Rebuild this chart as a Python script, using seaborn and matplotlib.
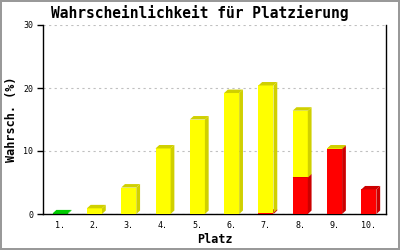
import matplotlib
matplotlib.use("Agg")
import matplotlib.pyplot as plt
from matplotlib.patches import Polygon
import seaborn as sns
import pandas as pd

places = ["1.", "2.", "3.", "4.", "5.", "6.", "7.", "8.", "9.", "10."]
green = [0.1, 0, 0, 0, 0, 0, 0, 0, 0, 0]
red = [0, 0, 0, 0, 0, 0, 0.2, 5.8, 10.3, 3.9]
yellow = [0, 0.9, 4.2, 10.4, 15.0, 19.2, 20.2, 10.6, 0.1, 0]
yticks = [0, 10, 20, 30]

title = "Wahrscheinlichkeit für Platzierung"
xlabel = "Platz"
ylabel = "Wahrsch. (%)"

sns.set_theme(style="white")
plt.rcParams["font.family"] = ["DejaVu Sans Mono", "DejaVu Sans"]
plt.rcParams["text.color"] = "black"
plt.rcParams["axes.labelcolor"] = "black"
plt.rcParams["xtick.color"] = "black"
plt.rcParams["ytick.color"] = "black"

df = pd.DataFrame({"place": places, "green": green, "red": red, "yellow": yellow})
df["bottom_red"] = df["green"]
df["bottom_yellow"] = df["green"] + df["red"]

fig = plt.figure(figsize=(4, 2.5), dpi=100, edgecolor="#999999", linewidth=1.5)
ax = fig.add_axes([43 / 400, 1 - 214 / 250, (386 - 43) / 400, (214 - 25) / 250])

series = [
    ("green", None, "#00ee00", "#00cc00"),
    ("red", "bottom_red", "#ff0000", "#cc0000"),
    ("yellow", "bottom_yellow", "#ffff00", "#d0d000"),
]
W = 0.44
dx, dy = 0.11, 0.55
z = 2
for col, bcol, face, dark in series:
    n_before = len(ax.patches)
    kw = {}
    if bcol is not None:
        kw["bottom"] = df[bcol]
    sns.barplot(data=df, x="place", y=col, color=face, saturation=1, width=W,
                linewidth=0, ax=ax, zorder=z, **kw)
    new = ax.patches[n_before:]
    for p in new:
        h = p.get_height()
        if h <= 0:
            continue
        x0, y0, w = p.get_x(), p.get_y(), p.get_width()
        p.set_zorder(z)
        side = Polygon([(x0 + w, y0), (x0 + w + dx, y0 + dy), (x0 + w + dx, y0 + h + dy), (x0 + w, y0 + h)],
                       closed=True, facecolor=dark, edgecolor="none", zorder=z)
        top = Polygon([(x0, y0 + h), (x0 + dx, y0 + h + dy), (x0 + w + dx, y0 + h + dy), (x0 + w, y0 + h)],
                      closed=True, facecolor=dark, edgecolor="none", zorder=z)
        ax.add_patch(side)
        ax.add_patch(top)
    z += 1

ax.set_xlim(-0.5, len(places) - 0.5)
ax.set_ylim(0, 30)
ax.set_yticks(yticks)
ax.set_yticklabels([str(t) for t in yticks], fontsize=6)
ax.tick_params(axis="y", length=4, width=1, color="black", direction="out", left=True, pad=3)
ax.tick_params(axis="x", length=0, pad=5, labelsize=6)
ax.yaxis.grid(True, color="#c0c0c0", linestyle=(0, (2, 3)), linewidth=0.8)
ax.set_axisbelow(True)
for s in ["left", "bottom", "right"]:
    ax.spines[s].set_visible(True)
    ax.spines[s].set_color("black")
    ax.spines[s].set_linewidth(1)
ax.spines["top"].set_visible(False)

ax.set_xlabel(xlabel, fontsize=8.5, fontweight="bold", labelpad=2)
ax.set_ylabel(ylabel, fontsize=8.5, fontweight="bold", labelpad=4)
fig.text(0.5, 1 - 13 / 250, title, ha="center", va="center", fontsize=10.5, fontweight="bold")

fig.savefig("out.png", dpi=100, edgecolor=fig.get_edgecolor())
